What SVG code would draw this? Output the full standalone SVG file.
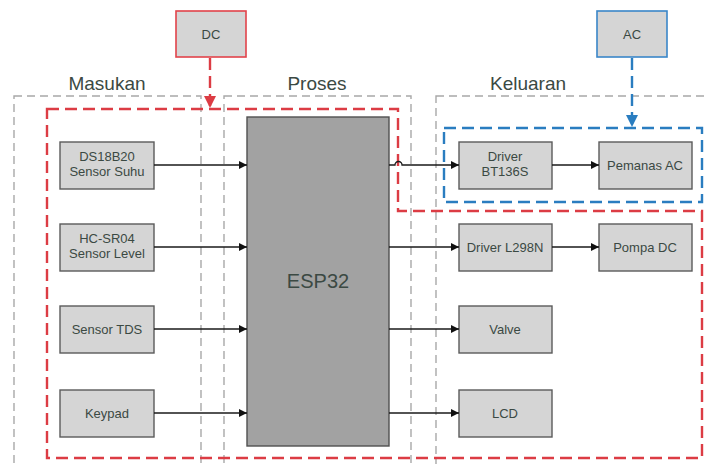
<svg xmlns="http://www.w3.org/2000/svg" width="705" height="464" viewBox="0 0 705 464">
<defs>
<style>
.t{font-family:"Liberation Sans",Arial,sans-serif;fill:#3b4943;text-anchor:middle}
.n{font-size:13px}
.h{font-size:19px}
.box{fill:#d5d5d5;stroke:#5b5b5b;stroke-width:1.4}
.grp{fill:none;stroke:#a8a8a8;stroke-width:1.4;stroke-dasharray:8 5}
.red{fill:none;stroke:#dc3c44;stroke-width:2.4;stroke-dasharray:12 6}
.blue{fill:none;stroke:#2a7dc0;stroke-width:2.4;stroke-dasharray:12 6}
.c{fill:none;stroke:#1a1a1a;stroke-width:1.3}
</style>
<marker id="ah" viewBox="0 0 10 10" refX="10" refY="5" markerWidth="8" markerHeight="8" markerUnits="userSpaceOnUse" orient="auto"><path d="M0,0 L10,5 L0,10 Z" fill="#111"/></marker>
<marker id="ahr" viewBox="0 0 10 10" refX="10" refY="5" markerWidth="12" markerHeight="12" markerUnits="userSpaceOnUse" orient="auto"><path d="M0,0 L10,5 L0,10 Z" fill="#dc3c44"/></marker>
<marker id="ahb" viewBox="0 0 10 10" refX="10" refY="5" markerWidth="12" markerHeight="12" markerUnits="userSpaceOnUse" orient="auto"><path d="M0,0 L10,5 L0,10 Z" fill="#2a7dc0"/></marker>
</defs>
<rect width="705" height="464" fill="#fff"/>
<g id="groups">
<rect class="grp" x="14" y="96" width="187" height="380"/>
<rect class="grp" x="224" y="96" width="187" height="380"/>
<rect class="grp" x="436" y="96" width="280" height="380"/>
<text class="t h" x="107" y="90">Masukan</text>
<text class="t h" x="317" y="90">Proses</text>
<text class="t h" x="528" y="90">Keluaran</text>
</g>
<g id="power-zones">
<path class="red" d="M47,109 H398 V211 H702 V458 H47 Z"/>
<rect class="blue" x="444" y="128" width="258" height="74"/>
</g>
<g id="dc"><rect x="176" y="11" width="70" height="46" fill="#d5d5d5" stroke="#e2434a" stroke-width="1.6"/><text class="t n" x="211" y="39">DC</text></g>
<g id="ac"><rect x="597" y="11" width="70" height="46" fill="#d5d5d5" stroke="#3a86c8" stroke-width="1.6"/><text class="t n" x="632" y="39">AC</text></g>
<g id="esp32"><rect x="247" y="117" width="142" height="329" fill="#a2a2a2" stroke="#505050" stroke-width="1.4"/><text class="t h" x="318" y="288" style="font-size:20px">ESP32</text></g>
<g id="ds18b20"><rect class="box" x="60" y="142" width="94" height="47"/><text class="t n" x="107" y="161">DS18B20</text><text class="t n" x="107" y="176">Sensor Suhu</text></g>
<g id="hcsr04"><rect class="box" x="60" y="224" width="94" height="47"/><text class="t n" x="107" y="243">HC-SR04</text><text class="t n" x="107" y="258">Sensor Level</text></g>
<g id="tds"><rect class="box" x="60" y="306" width="94" height="47"/><text class="t n" x="107" y="334">Sensor TDS</text></g>
<g id="keypad"><rect class="box" x="60" y="390" width="94" height="47"/><text class="t n" x="107" y="418">Keypad</text></g>
<g id="bt136s"><rect class="box" x="459" y="142" width="93" height="47"/><text class="t n" x="505" y="161">Driver</text><text class="t n" x="505" y="176">BT136S</text></g>
<g id="pemanas"><rect class="box" x="599" y="142" width="93" height="47"/><text class="t n" x="645" y="170">Pemanas AC</text></g>
<g id="l298n"><rect class="box" x="459" y="224" width="93" height="47"/><text class="t n" x="505" y="252">Driver L298N</text></g>
<g id="pompa"><rect class="box" x="599" y="224" width="93" height="47"/><text class="t n" x="645" y="252">Pompa DC</text></g>
<g id="valve"><rect class="box" x="459" y="306" width="93" height="47"/><text class="t n" x="505" y="334">Valve</text></g>
<g id="lcd"><rect class="box" x="459" y="390" width="93" height="47"/><text class="t n" x="505" y="418">LCD</text></g>
<g id="connectors">
<path class="red" d="M210,58 V108" marker-end="url(#ahr)"/>
<path class="blue" d="M632,58 V127" marker-end="url(#ahb)"/>
<path class="c" d="M154,165 H247" marker-end="url(#ah)"/>
<path class="c" d="M154,247 H247" marker-end="url(#ah)"/>
<path class="c" d="M154,329 H247" marker-end="url(#ah)"/>
<path class="c" d="M154,413 H247" marker-end="url(#ah)"/>
<path class="c" d="M389,165 H395 A3.5,3.5 0 0 1 402,165 H459" marker-end="url(#ah)"/>
<path class="c" d="M552,165 H599" marker-end="url(#ah)"/>
<path class="c" d="M389,247 H459" marker-end="url(#ah)"/>
<path class="c" d="M552,247 H599" marker-end="url(#ah)"/>
<path class="c" d="M389,329 H459" marker-end="url(#ah)"/>
<path class="c" d="M389,413 H459" marker-end="url(#ah)"/>
</g>
</svg>
